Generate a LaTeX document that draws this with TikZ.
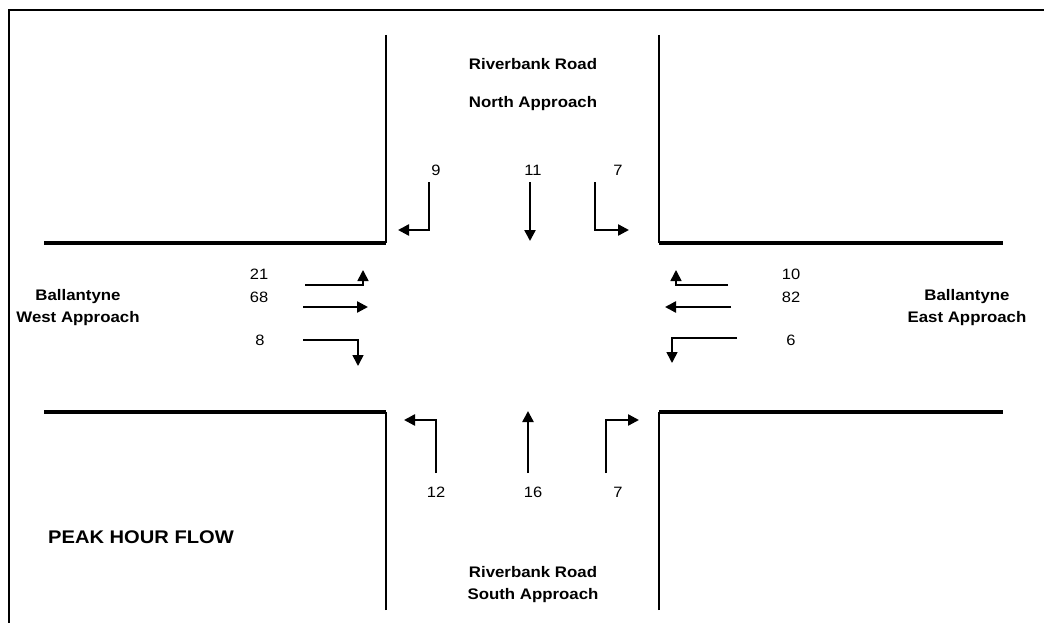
\documentclass[tikz,border=0pt]{standalone}
\usepackage{fontspec}
\setmainfont{Liberation Sans}[FakeStretch=1.1]
\usetikzlibrary{arrows.meta}
\tikzset{
  frameline/.style={line width=2.4pt},
  vroad/.style={line width=2.4pt},
  hroad/.style={line width=3.6pt},
  flow/.style={line width=2.4pt,-{Triangle[length=11pt,width=11pt]}},
  thinflow/.style={line width=1.6pt,-{Triangle[length=11pt,width=11pt]}},
  num/.style={font=\fontsize{15}{16}\selectfont, inner sep=0pt},
  lbl/.style={font=\bfseries\fontsize{15.3}{22}\selectfont, inner sep=0pt, align=center},
  big/.style={font=\bfseries\fontsize{18.3}{22}\selectfont, inner sep=0pt}
}
\begin{document}
\begin{tikzpicture}[x=1pt,y=-1pt]
\useasboundingbox (0,0) rectangle (1044,623);
% frame
\coordinate (fb) at (9,623);
\coordinate (ftl) at (9,10);
\coordinate (ftr) at (1044,10);
\draw[frameline] (fb) -- (ftl) -- (ftr);
% road edges
\coordinate (nwt) at (386,35);  \coordinate (nwc) at (386,243);
\coordinate (net) at (659,35);  \coordinate (nec) at (659,243);
\coordinate (swb) at (386,610); \coordinate (swc) at (386,412);
\coordinate (seb) at (659,610); \coordinate (sec) at (659,412);
\coordinate (wn) at (44,243); \coordinate (ws) at (44,412);
\coordinate (en) at (1003,243); \coordinate (es) at (1003,412);
\draw[vroad] (nwt) -- (nwc);
\draw[vroad] (net) -- (nec);
\draw[vroad] (swb) -- (swc);
\draw[vroad] (seb) -- (sec);
\draw[hroad] (wn) -- (nwc);
\draw[hroad] (nec) -- (en);
\draw[hroad] (ws) -- (swc);
\draw[hroad] (sec) -- (es);
% labels
\node[lbl] (rr) at (533,64) {Riverbank Road};
\node[lbl] (na) at (533,104) {North Approach};
\node[lbl] (sa) at (533,585) {Riverbank Road\\South Approach};
\node[lbl] (wa) at (78,308) {Ballantyne\\West Approach};
\node[lbl] (ea) at (967,308) {Ballantyne\\East Approach};
\node[big] (phf) at (141,537) {PEAK HOUR FLOW};
% numbers
\node[num] (n9) at (436,170) {9};
\node[num] (n11) at (533,170) {11};
\node[num] (n7a) at (618,170) {7};
\node[num] (n21) at (259,274) {21};
\node[num] (n68) at (259,297) {68};
\node[num] (n8) at (260,340) {8};
\node[num] (n10) at (791,274) {10};
\node[num] (n82) at (791,297) {82};
\node[num] (n6) at (791,340) {6};
\node[num] (n12) at (436,492) {12};
\node[num] (n16) at (533,492) {16};
\node[num] (n7b) at (618,492) {7};
% north approach arrows
\coordinate (a9s) at (429,182); \coordinate (a9e) at (398,230);
\draw[flow] (a9s) |- (a9e);
\coordinate (a11s) at (530,182); \coordinate (a11e) at (530,241);
\draw[flow] (a11s) -- (a11e);
\coordinate (a7s) at (595,182); \coordinate (a7e) at (629,230);
\draw[flow] (a7s) |- (a7e);
% west approach arrows
\coordinate (a21s) at (305,285); \coordinate (a21e) at (363,270);
\draw[thinflow] (a21s) -| (a21e);
\coordinate (a68s) at (303,307); \coordinate (a68e) at (368,307);
\draw[flow] (a68s) -- (a68e);
\coordinate (a8s) at (303,340); \coordinate (a8e) at (358,366);
\draw[thinflow] (a8s) -| (a8e);
% east approach arrows
\coordinate (a10s) at (728,285); \coordinate (a10e) at (676,270);
\draw[thinflow] (a10s) -| (a10e);
\coordinate (a82s) at (731,307); \coordinate (a82e) at (665,307);
\draw[flow] (a82s) -- (a82e);
\coordinate (a6s) at (737,338); \coordinate (a6e) at (672,363);
\draw[thinflow] (a6s) -| (a6e);
% south approach arrows
\coordinate (a12s) at (436,473); \coordinate (a12e) at (404,420);
\draw[flow] (a12s) |- (a12e);
\coordinate (a16s) at (528,473); \coordinate (a16e) at (528,411);
\draw[flow] (a16s) -- (a16e);
\coordinate (a7bs) at (606,473); \coordinate (a7be) at (639,420);
\draw[flow] (a7bs) |- (a7be);
\end{tikzpicture}
\end{document}
